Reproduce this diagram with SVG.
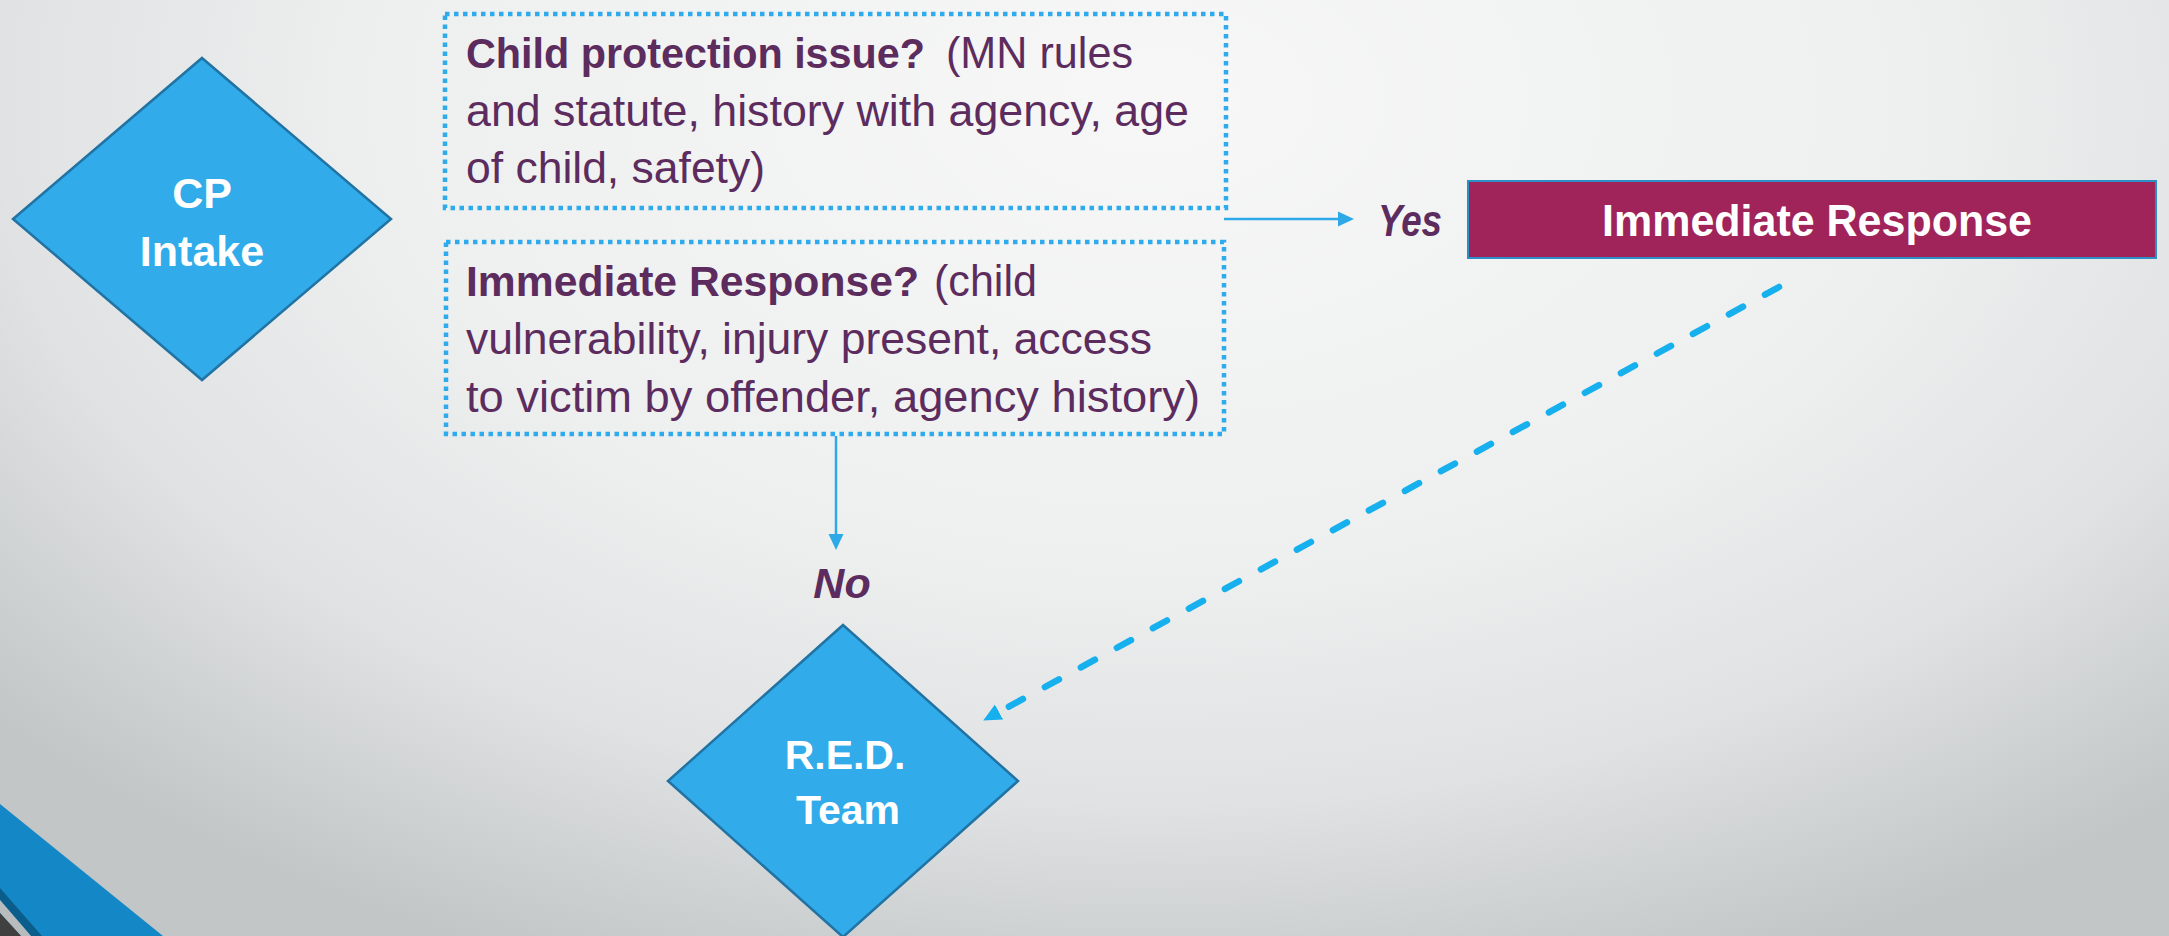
<svg xmlns="http://www.w3.org/2000/svg" width="2169" height="936" viewBox="0 0 2169 936">
<defs>
<radialGradient id="bg" gradientUnits="userSpaceOnUse" cx="1150" cy="100" r="1100" gradientTransform="translate(1150 100) scale(1.4 0.85) translate(-1150 -100)">
<stop offset="0" stop-color="#F7F7F7"/>
<stop offset="0.5" stop-color="#EEEFEF"/>
<stop offset="0.75" stop-color="#E0E2E3"/>
<stop offset="1" stop-color="#C2C6C7"/>
</radialGradient>
<marker id="solidHead" markerUnits="userSpaceOnUse" markerWidth="16" markerHeight="16" refX="0" refY="8" orient="auto">
<path d="M0,0.5 L16,8 L0,15.5 z" fill="#2EA9E8"/>
</marker>
<marker id="dashHead" markerUnits="userSpaceOnUse" markerWidth="18" markerHeight="18" refX="0" refY="8.5" orient="auto">
<path d="M0,0 L18,8.5 L0,17 z" fill="#16B0EE"/>
</marker>
</defs>
<style>
.dotbox{fill:none;stroke:#2EABEC;stroke-width:4.5;stroke-dasharray:4.5 4.5;}
.body{font-family:"Liberation Sans",Arial,sans-serif;font-size:45px;fill:#5C2C5E;}
.b{font-weight:bold;font-size:43px;}
.diamond{fill:#31ABE9;stroke:#2173A3;stroke-width:2.5;}
.dlabel{font-family:"Liberation Sans",Arial,sans-serif;font-weight:bold;fill:#FFFFFF;text-anchor:middle;}
.lbl{font-family:"Liberation Sans",Arial,sans-serif;font-weight:bold;font-style:italic;fill:#5C2C5E;}
.solid{fill:none;stroke:#2EA9E8;stroke-width:2.5;}
.dashed{fill:none;stroke:#16B0EE;stroke-width:6.5;stroke-linecap:round;stroke-dasharray:16 25;}
</style>
<rect x="0" y="0" width="2169" height="936" fill="url(#bg)"/>
<g id="decoration">
<polygon points="0,804 163,936 0,936" fill="#1488C6"/>
<polygon points="0,888 42,936 31,936 0,900" fill="#0B5E8C"/>
<polygon points="0,900 31,936 21,936 0,913" fill="#B8BCBD"/>
<polygon points="0,913 21,936 0,936" fill="#404040"/>
</g>
<g id="connectors">
<path class="solid" d="M1224,219 L1338,219" marker-end="url(#solidHead)"/>
<path class="solid" d="M836,436 L836,534" marker-end="url(#solidHead)"/>
<path class="dashed" d="M1779,287 L999,712" marker-end="url(#dashHead)"/>
<text class="lbl" x="1378" y="236" font-size="44" textLength="64" lengthAdjust="spacingAndGlyphs">Yes</text>
<text class="lbl" x="842" y="598" font-size="43" text-anchor="middle">No</text>
</g>
<g id="cp-intake">
<polygon class="diamond" points="202,58 391,219 202,380 13,219"/>
<text class="dlabel" x="202" y="208" font-size="43">CP</text>
<text class="dlabel" x="202" y="266" font-size="43">Intake</text>
</g>
<g id="child-protection-question">
<rect class="dotbox" x="445" y="14" width="781" height="194"/>
<text class="body b" x="466" y="68" textLength="459" lengthAdjust="spacingAndGlyphs">Child protection issue?</text>
<text class="body" x="946" y="68" textLength="187" lengthAdjust="spacingAndGlyphs">(MN rules</text>
<text class="body" x="466" y="126" textLength="723" lengthAdjust="spacingAndGlyphs">and statute, history with agency, age</text>
<text class="body" x="466" y="183" textLength="299" lengthAdjust="spacingAndGlyphs">of child, safety)</text>
</g>
<g id="immediate-response-question">
<rect class="dotbox" x="446" y="242" width="778" height="192"/>
<text class="body b" x="466" y="296" textLength="453" lengthAdjust="spacingAndGlyphs">Immediate Response?</text>
<text class="body" x="934" y="296" textLength="103" lengthAdjust="spacingAndGlyphs">(child</text>
<text class="body" x="466" y="354" textLength="686" lengthAdjust="spacingAndGlyphs">vulnerability, injury present, access</text>
<text class="body" x="466" y="412" textLength="734" lengthAdjust="spacingAndGlyphs">to victim by offender, agency history)</text>
</g>
<g id="immediate-response">
<rect x="1468" y="181" width="688" height="77" fill="#A0235A" stroke="#2E8FC7" stroke-width="2"/>
<text class="dlabel" x="1817" y="236" font-size="45" textLength="430" lengthAdjust="spacingAndGlyphs">Immediate Response</text>
</g>
<g id="red-team">
<polygon class="diamond" points="843,625 1018,781 843,937 668,781"/>
<text class="dlabel" x="845" y="769" font-size="41">R.E.D.</text>
<text class="dlabel" x="848" y="824" font-size="41">Team</text>
</g>
</svg>
